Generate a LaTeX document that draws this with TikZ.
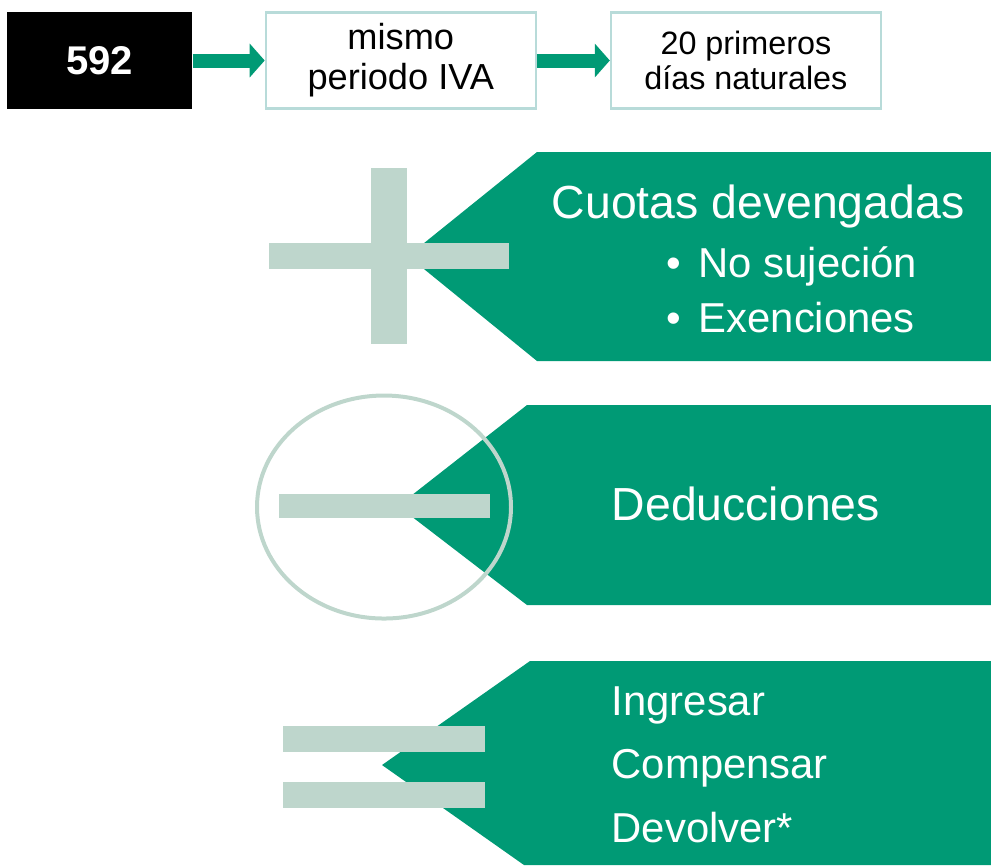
\documentclass[tikz,border=0pt]{standalone}
\usepackage{fontspec}
\setmainfont{Liberation Sans}
\usepackage{xcolor}
\definecolor{ivagreen}{RGB}{0,154,117}
\definecolor{ivabar}{RGB}{190,214,204}
\definecolor{ivaframe}{RGB}{184,219,217}
\usetikzlibrary{arrows.meta, positioning}

\tikzset{
  topbox/.style={draw=ivaframe, line width=0.6pt, fill=white, minimum width=2.70cm, minimum height=0.96cm, inner sep=0pt, align=center},
  flowarrow/.style={ivagreen, line width=0.14cm, -{Triangle[length=0.15cm, width=0.33cm]}},
  signbar/.style={fill=ivabar, draw=none},
  greentxt/.style={text=white, anchor=base west, inner sep=0pt, font=\fontsize{13.2}{15}\selectfont},
  listtxt/.style={greentxt, font=\fontsize{11.9}{14}\selectfont},
}

\begin{document}
\begin{tikzpicture}
  \useasboundingbox (0,0) rectangle (9.91,-8.65);

  % --- Top row: model, period, deadline ---
  \node[fill=black, minimum width=1.85cm, minimum height=0.97cm, inner sep=0pt, text=white, font=\fontsize{11.4}{13}\selectfont\bfseries] (modelo) at (0.995,-0.605) {592};
  \node[topbox, right=0.72cm of modelo, font=\fontsize{10.3}{11.4}\selectfont] (periodo) {mismo\\periodo IVA};
  \node[topbox, right=0.73cm of periodo, font=\fontsize{9.2}{10}\selectfont] (plazo) {20 primeros\\días naturales};
  \draw[flowarrow] (modelo) -- (periodo);
  \draw[flowarrow] (periodo) -- (plazo);

  % --- Plus: accrued quotas ---
  \fill[ivagreen] (5.37,-1.52) -- (9.91,-1.52) -- (9.91,-3.61) -- (5.37,-3.61) -- (4.08,-2.56) -- cycle;
  \fill[signbar] (3.71,-1.68) rectangle (4.07,-3.44);
  \fill[signbar] (2.69,-2.43) rectangle (5.09,-2.69);
  \node[greentxt] (cuotas) at (5.51,-2.18) {Cuotas devengadas};
  \node[listtxt] (nosujecion) at (6.66,-2.77) {\makebox[0.32cm][l]{•}No sujeción};
  \node[listtxt] (exenciones) at (6.66,-3.32) {\makebox[0.32cm][l]{•}Exenciones};

  % --- Minus: deductions ---
  \fill[ivagreen] (5.27,-4.05) -- (9.91,-4.05) -- (9.91,-6.05) -- (5.27,-6.05) -- (3.98,-5.06) -- cycle;
  \draw[ivabar, line width=0.04cm] (3.84,-5.07) ellipse [x radius=1.27, y radius=1.115];
  \fill[signbar] (2.79,-4.94) rectangle (4.90,-5.18);
  \node[greentxt] (deducciones) at (6.11,-5.20) {Deducciones};

  % --- Equals: result ---
  \fill[ivagreen] (5.30,-6.61) -- (9.91,-6.61) -- (9.91,-8.65) -- (5.24,-8.65) -- (3.82,-7.65) -- cycle;
  \fill[signbar] (2.83,-7.26) rectangle (4.85,-7.52);
  \fill[signbar] (2.83,-7.82) rectangle (4.85,-8.08);
  \node[listtxt] (ingresar) at (6.11,-7.15) {Ingresar};
  \node[listtxt] (compensar) at (6.11,-7.78) {Compensar};
  \node[listtxt] (devolver) at (6.11,-8.42) {Devolver*};
\end{tikzpicture}
\end{document}
